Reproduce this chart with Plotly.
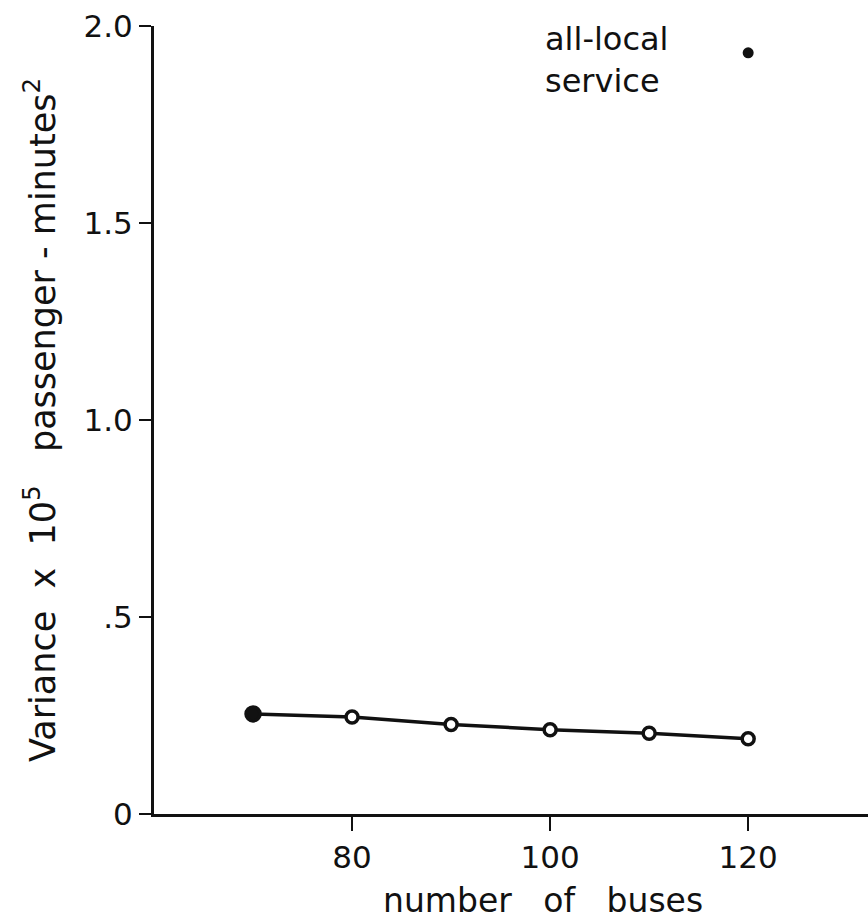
import plotly.graph_objects as go

# Variance of passenger waiting time vs. fleet size
buses = [70, 80, 90, 100, 110, 120]
variance = [0.254, 0.246, 0.227, 0.214, 0.205, 0.191]

# Reference point: all-local service
local_buses = [120]
local_variance = [1.932]

y_tickvals = [0, 0.5, 1.0, 1.5, 2.0]
y_ticktext = ["0", ".5", "1.0", "1.5", "2.0"]
x_tickvals = [80, 100, 120]
x_ticktext = ["80", "100", "120"]

ink = "#111111"
font_family = "DejaVu Sans"

fig = go.Figure()

fig.add_trace(go.Scatter(
    x=buses, y=variance,
    mode="lines+markers",
    line=dict(color=ink, width=3.5),
    marker=dict(
        size=[14, 12, 12, 12, 12, 12],
        color=[ink, "white", "white", "white", "white", "white"],
        line=dict(color=ink, width=3.5),
        opacity=1,
    ),
    showlegend=False,
    cliponaxis=False,
))

fig.add_trace(go.Scatter(
    x=local_buses, y=local_variance,
    mode="markers",
    marker=dict(size=11, color=ink, opacity=1),
    showlegend=False,
    cliponaxis=False,
))

fig.add_annotation(
    x=99.3, y=2.0, xref="x", yref="y",
    text="all-local<br>service",
    showarrow=False, xanchor="left", yanchor="top", align="left",
    yshift=8,
    font=dict(family=font_family, size=32, color=ink),
)

# axis titles
fig.add_annotation(
    x=0, y=0.5, xref="paper", yref="paper",
    xshift=-114, textangle=-90,
    text="Variance  x  10<sup>5</sup>   passenger - minutes<sup>2</sup>",
    showarrow=False, xanchor="center", yanchor="middle",
    font=dict(family=font_family, size=35, color=ink),
)
fig.add_annotation(
    x=99.3, y=0, xref="x", yref="paper",
    yshift=-86,
    text="number   of   buses",
    showarrow=False, xanchor="center", yanchor="middle",
    font=dict(family=font_family, size=33, color=ink),
)

fig.update_layout(
    width=868, height=924,
    margin=dict(l=154, r=0, t=26, b=110),
    paper_bgcolor="white", plot_bgcolor="white",
    font=dict(family=font_family, color=ink),
    xaxis=dict(
        range=[60, 132.1],
        tickvals=x_tickvals, ticktext=x_ticktext,
        ticks="outside", ticklen=14, tickwidth=2, tickcolor=ink,
        showline=True, linecolor=ink, linewidth=3,
        showgrid=False, zeroline=False,
        tickfont=dict(family=font_family, size=31, color=ink),
    ),
    yaxis=dict(
        range=[0, 2.0],
        tickvals=y_tickvals, ticktext=y_ticktext,
        ticks="outside", ticklen=12, tickwidth=2, tickcolor=ink,
        showline=True, linecolor=ink, linewidth=3,
        showgrid=False, zeroline=False,
        tickfont=dict(family=font_family, size=31, color=ink),
    ),
)

fig.write_html("out.html")
